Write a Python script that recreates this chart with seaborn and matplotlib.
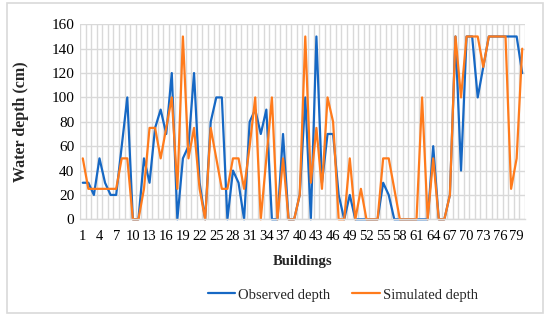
import matplotlib
matplotlib.use('Agg')
import matplotlib.pyplot as plt
from matplotlib.patches import Rectangle
import seaborn as sns
import pandas as pd


buildings = list(range(1, 81))

observed = [30, 30, 20, 50, 30, 20, 20, 60, 100, 0,
            0, 50, 30, 75, 90, 70, 120, 0, 50, 60,
            120, 30, 0, 80, 100, 100, 0, 40, 30, 0,
            80, 90, 70, 90, 0, 0, 70, 0, 0, 20,
            100, 0, 150, 30, 70, 70, 20, 0, 20, 0,
            0, 0, 0, 0, 30, 20, 0, 0, 0, 0,
            0, 0, 0, 60, 0, 0, 20, 150, 40, 150,
            150, 100, 125, 150, 150, 150, 150, 150, 150, 120]

simulated = [50, 25, 25, 25, 25, 25, 25, 50, 50, 0,
             0, 25, 75, 75, 50, 75, 100, 25, 150, 50,
             75, 25, 0, 75, 50, 25, 25, 50, 50, 25,
             60, 100, 0, 50, 100, 0, 50, 0, 0, 20,
             150, 30, 75, 25, 100, 80, 0, 0, 50, 0,
             25, 0, 0, 0, 50, 50, 25, 0, 0, 0,
             0, 100, 0, 50, 0, 0, 20, 150, 100, 150,
             150, 150, 125, 150, 150, 150, 150, 25, 50, 140]

series_names = ['Observed depth', 'Simulated depth']
colors = ['#1668C4', '#FF7B1C']

df = pd.concat([
    pd.DataFrame({'Buildings': buildings, 'depth': observed, 'series': series_names[0]}),
    pd.DataFrame({'Buildings': buildings, 'depth': simulated, 'series': series_names[1]}),
])

sns.set_style('white')
plt.rcParams['font.family'] = ['Liberation Serif', 'DejaVu Serif']

fig, ax = plt.subplots(figsize=(5.51, 3.21), dpi=100)
fig.subplots_adjust(left=0.1452, right=0.9528, bottom=0.3168, top=0.9243)

sns.lineplot(data=df, x='Buildings', y='depth', hue='series',
             palette=dict(zip(series_names, colors)), linewidth=1.6,
             legend=False, ax=ax)
for line in ax.lines:
    line.set_clip_on(False)

ax.set_xlim(0.5, 80.5)
ax.set_ylim(0, 160)
ax.set_yticks(range(0, 161, 20))
ax.set_xticks(range(1, 81, 3))
ax.set_xticks([b - 0.5 for b in buildings] + [80.5], minor=True)
ax.tick_params(axis='both', which='both', length=0, colors='black')
ax.tick_params(axis='x', pad=8, labelsize=10.5)
ax.tick_params(axis='y', pad=4, labelsize=11)
ax.grid(axis='y', which='major', color='#d9d9d9', linewidth=1)
ax.grid(axis='x', which='minor', color='#d9d9d9', linewidth=1)
ax.set_axisbelow(True)

for side in ['top', 'right', 'left']:
    ax.spines[side].set_visible(False)
ax.spines['bottom'].set_color('#d9d9d9')
ax.spines['bottom'].set_linewidth(1)

ax.set_xlabel('Buildings', fontsize=10.5, fontweight='bold', labelpad=8)
ax.set_ylabel('Water depth (cm)', fontsize=11.5, fontweight='bold', labelpad=16)

handles = [plt.Line2D([], [], color=c, linewidth=1.6) for c in colors]
fig.legend(handles, series_names, loc='center', bbox_to_anchor=(0.622, 0.081),
           ncol=2, frameon=False, fontsize=10.5, handlelength=1.9,
           handletextpad=0.2, columnspacing=1.5)

# chart area border
fig.patches.append(Rectangle((7 / 551, 1 - 313 / 321), 536 / 551, 310 / 321,
                             transform=fig.transFigure, fill=False,
                             edgecolor='#d9d9d9', linewidth=1.2))

fig.savefig('out.png', dpi=100)
